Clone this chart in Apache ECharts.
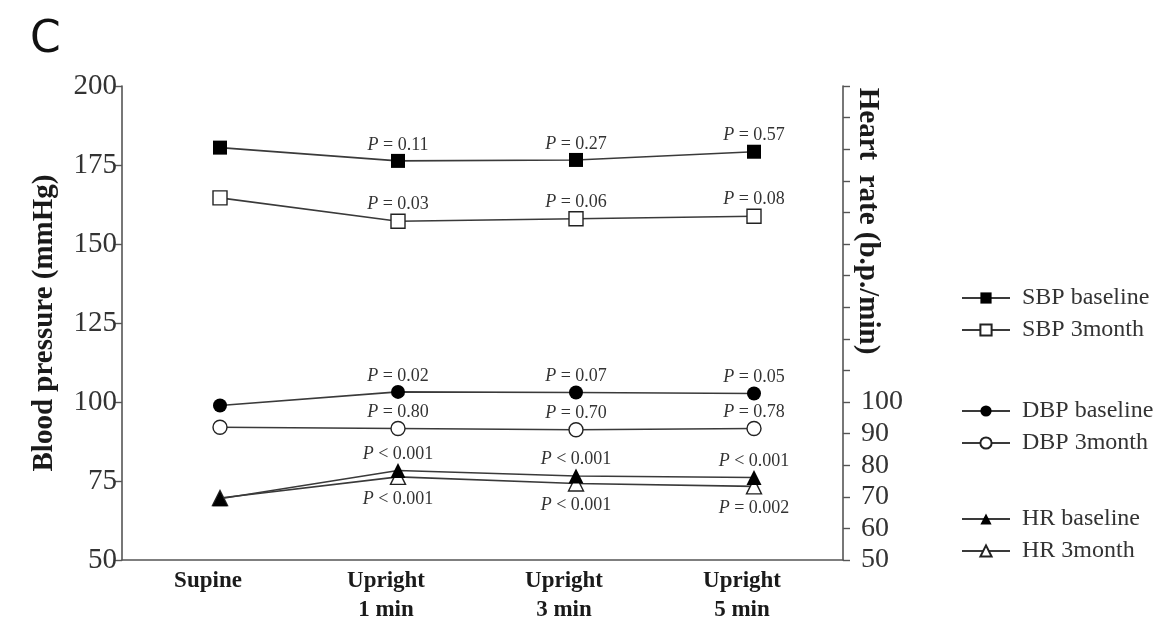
<!DOCTYPE html>
<html><head><meta charset="utf-8">
<script src="https://cdn.jsdelivr.net/npm/echarts@6/dist/echarts.min.js"></script>
<style>html,body{margin:0;padding:0;background:#fff}#c{width:1160px;height:619px}</style>
</head><body><div id="c"></div>
<script>
const categories = ['Supine', 'Upright\n1 min', 'Upright\n3 min', 'Upright\n5 min'];
const leftTicks = [50, 75, 100, 125, 150, 175, 200];
const rightTicksLabeled = [50, 60, 70, 80, 90, 100];

const sbpBaseline = [180.5, 176.3, 176.6, 179.2];
const sbp3month   = [164.6, 157.2, 158.0, 158.8];
const dbpBaseline = [98.9, 103.2, 103.0, 102.7];
const dbp3month   = [92.0, 91.6, 91.2, 91.6];
const hrBaseline  = [69.4, 78.3, 76.6, 76.1];
const hr3month    = [69.6, 76.3, 74.2, 73.3];

const pSbpBaseline = ['', '= 0.11', '= 0.27', '= 0.57'];
const pSbp3month   = ['', '= 0.03', '= 0.06', '= 0.08'];
const pDbpBaseline = ['', '= 0.02', '= 0.07', '= 0.05'];
const pDbp3month   = ['', '= 0.80', '= 0.70', '= 0.78'];
const pHrBaseline  = ['', '< 0.001', '< 0.001', '< 0.001'];
const pHr3month    = ['', '< 0.001', '< 0.001', '= 0.002'];

const SERIF = '"Liberation Serif", "DejaVu Serif", serif';
const INK = '#1a1a1a';
const LINE = '#3a3a3a';
const AXIS = '#555';

function mkData(vals, ps, pos) {
  return vals.map((v, i) => ({
    value: v,
    label: ps[i] ? {
      show: true, position: pos, distance: pos === 'top' ? 0 : 5,
      formatter: '{i|P} ' + ps[i],
      fontFamily: SERIF, fontSize: 18, color: '#333',
      rich: { i: { fontStyle: 'italic', fontFamily: SERIF, fontSize: 18, color: '#333' } }
    } : { show: false }
  }));
}

function mkSeries(name, vals, ps, pos, symbol, filled, yIdx) {
  return {
    name: name, type: 'line', xAxisIndex: 0, yAxisIndex: yIdx,
    data: mkData(vals, ps, pos),
    symbol: symbol, symbolSize: symbol === 'triangle' ? 15 : 14,
    showSymbol: true,
    lineStyle: { color: LINE, width: 1.6 },
    itemStyle: { color: filled ? '#000' : '#fff', borderColor: '#222', borderWidth: filled ? 0 : 1.4 },
    emphasis: { disabled: true },
    animation: false, z: filled ? 3 : 2
  };
}

const legendBase = {
  orient: 'vertical', left: 961, padding: 0, itemWidth: 48, itemHeight: 14, itemGap: 8,
  textStyle: { fontFamily: SERIF, fontSize: 24, color: '#333', padding: [0, 0, 0, 7] }
};

const gridCommon = { outerBoundsMode: 'none', containLabel: false };

const option = {
  animation: false,
  backgroundColor: '#fff',
  title: { text: 'C', left: 25, top: 14, textStyle: { fontFamily: '"DejaVu Sans", sans-serif', fontSize: 44, fontWeight: 'normal', color: '#111' } },
  grid: [
    Object.assign({ left: 131, right: 317, top: 86, bottom: 59 }, gridCommon),
    Object.assign({ left: 122, right: 317, top: 86, height: 270 }, gridCommon),
    Object.assign({ left: 122, right: 317, top: 86, bottom: 59 }, gridCommon)
  ],
  legend: [
    Object.assign({}, legendBase, { top: 286, data: ['SBP baseline', 'SBP 3month'] }),
    Object.assign({}, legendBase, { top: 399, data: ['DBP baseline', 'DBP 3month'] }),
    Object.assign({}, legendBase, { top: 507, data: ['HR baseline', 'HR 3month'] })
  ],
  xAxis: [
    {
      type: 'category', gridIndex: 0, data: categories, boundaryGap: true,
      axisLine: { show: false },
      axisTick: { show: false },
      axisLabel: { fontFamily: SERIF, fontWeight: 'bold', fontSize: 23, color: INK, lineHeight: 29, margin: 7,
        padding: [0, 24, 0, 0] }
    },
    { type: 'category', gridIndex: 1, data: categories, show: false },
    {
      type: 'value', gridIndex: 2, min: 0, max: 1,
      axisLine: { show: true, onZero: false, lineStyle: { color: AXIS, width: 1.6 } },
      axisTick: { show: false }, axisLabel: { show: false }, splitLine: { show: false }
    }
  ],
  yAxis: [
    {
      type: 'value', gridIndex: 0, position: 'left', offset: 9, min: 50, max: 200, interval: 25,
      name: 'Blood pressure (mmHg)', nameLocation: 'middle', nameRotate: 90, nameGap: 63,
      nameTextStyle: { fontFamily: SERIF, fontWeight: 'bold', fontSize: 29, color: INK },
      axisLine: { show: true, lineStyle: { color: AXIS, width: 1.6 } },
      axisTick: { show: true, inside: false, length: 7, lineStyle: { color: AXIS, width: 1.4 } },
      axisLabel: { fontFamily: SERIF, fontSize: 29, color: '#333', margin: 5,
        formatter: v => leftTicks.includes(v) ? String(v) : '' },
      splitLine: { show: false }
    },
    {
      type: 'value', gridIndex: 0, position: 'right', min: 50, max: 200, interval: 10,
      axisLine: { show: true, lineStyle: { color: AXIS, width: 1.6 } },
      axisTick: { show: true, inside: false, length: 7, lineStyle: { color: AXIS, width: 1.4 } },
      axisLabel: { fontFamily: SERIF, fontSize: 28, color: '#333', margin: 18,
        formatter: v => rightTicksLabeled.includes(v) ? String(v) : '' },
      splitLine: { show: false }
    },
    {
      type: 'value', gridIndex: 1, position: 'right', min: 0, max: 1,
      name: 'Heart  rate (b.p./min)', nameLocation: 'middle', nameRotate: -90, nameGap: 10,
      nameTextStyle: { fontFamily: SERIF, fontWeight: 'bold', fontSize: 29, color: INK },
      axisLine: { show: false }, axisTick: { show: false }, axisLabel: { show: false }, splitLine: { show: false }
    },
    {
      type: 'value', gridIndex: 2, min: 0, max: 1, show: false
    }
  ],
  series: [
    mkSeries('SBP baseline', sbpBaseline, pSbpBaseline, 'top', 'rect', true, 0),
    mkSeries('SBP 3month', sbp3month, pSbp3month, 'top', 'rect', false, 0),
    mkSeries('DBP baseline', dbpBaseline, pDbpBaseline, 'top', 'circle', true, 0),
    mkSeries('DBP 3month', dbp3month, pDbp3month, 'top', 'circle', false, 0),
    mkSeries('HR baseline', hrBaseline, pHrBaseline, 'top', 'triangle', true, 1),
    mkSeries('HR 3month', hr3month, pHr3month, 'bottom', 'triangle', false, 1)
  ]
};

const chart = echarts.init(document.getElementById('c'), null, { renderer: 'canvas' });
chart.setOption(option);
</script>
</body></html>
